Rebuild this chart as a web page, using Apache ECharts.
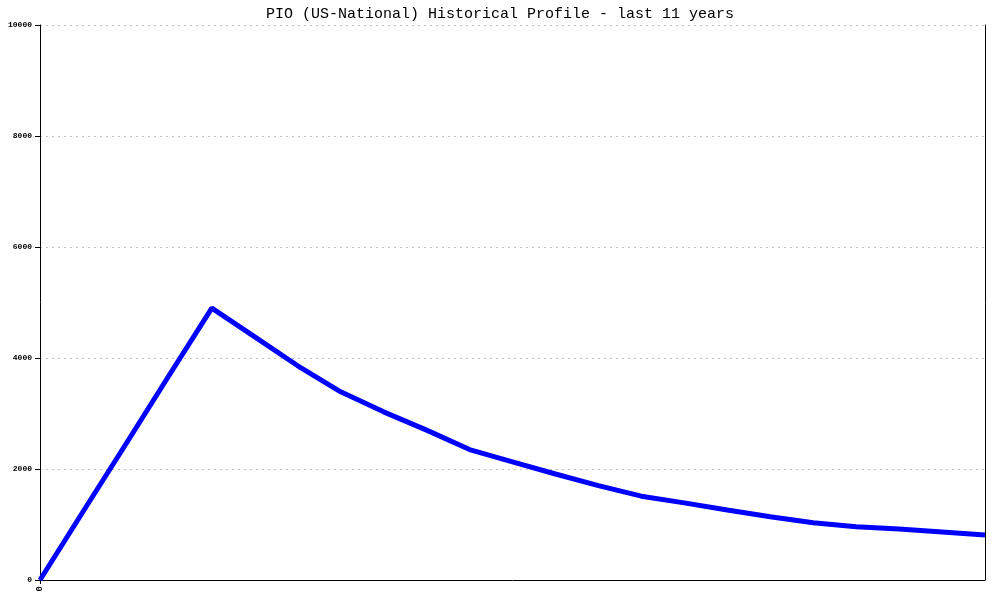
<!DOCTYPE html>
<html>
<head>
<meta charset="utf-8">
<script src="https://cdn.jsdelivr.net/npm/echarts@6/dist/echarts.min.js"></script>
<style>html,body{margin:0;padding:0;background:#fff}#c{width:1000px;height:600px}</style>
</head>
<body>
<div id="c"></div>
<script>
var titleText = "PIO (US-National) Historical Profile - last 11 years";
var xLabels = ["0","","","","","","","","","","","","","","","","","","","","","",""];
var values = [0,1230,2450,3680,4900,4380,3860,3390,3030,2700,2350,2130,1910,1700,1510,1390,1260,1140,1030,960,920,865,810];
var yTicks = [0,2000,4000,6000,8000,10000];

var chart = echarts.init(document.getElementById('c'), null, {renderer:'canvas'});
chart.setOption({
  animation:false,
  backgroundColor:'#ffffff',
  title:{text:titleText,left:'center',top:2,textStyle:{fontFamily:'Liberation Mono',fontSize:15,fontWeight:'normal',color:'#000'}},
  grid:{left:40,right:15,top:25,bottom:20},
  xAxis:{type:'category',data:xLabels,boundaryGap:false,
    axisLine:{lineStyle:{color:'#000',width:1}},
    axisTick:{show:true,alignWithLabel:true,interval:function(i){return i===0;},length:4,lineStyle:{color:'#000'}},
    axisLabel:{interval:0,rotate:90,fontFamily:'Liberation Mono',fontSize:9,fontWeight:'bold',color:'#000',margin:6},
    splitLine:{show:false}},
  yAxis:[{type:'value',min:yTicks[0],max:yTicks[yTicks.length-1],interval:2000,
    axisLine:{show:true,lineStyle:{color:'#000',width:1}},
    axisTick:{show:true,length:5,lineStyle:{color:'#000'}},
    axisLabel:{fontFamily:'Liberation Mono',fontSize:8,fontWeight:'bold',color:'#000',margin:8,formatter:function(v){return String(v);}},
    splitLine:{show:true,lineStyle:{color:'#c0c0c0',type:[2,4],width:1}}},
    {type:'value',position:'right',min:0,max:10000,interval:2000,
    axisLine:{show:true,lineStyle:{color:'#000',width:1}},
    axisTick:{show:false},axisLabel:{show:false},splitLine:{show:false}}],
  series:[{type:'line',data:values,showSymbol:false,symbol:'none',
    lineStyle:{color:'#0000ff',width:5},itemStyle:{color:'#0000ff'}}]
});
</script>
</body>
</html>
